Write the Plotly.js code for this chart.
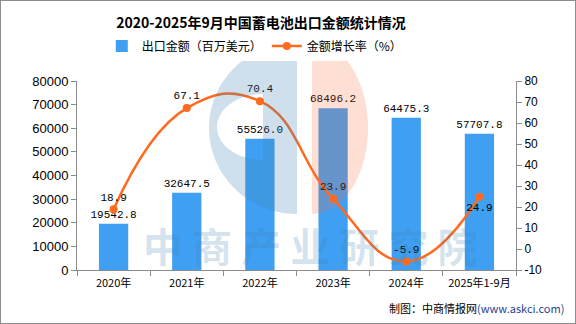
<!DOCTYPE html>
<html><head><meta charset="utf-8">
<script src="https://cdn.plot.ly/plotly-3.0.1.min.js"></script>
<style>
body{margin:0;padding:0;background:#fff;}
#wrap{position:relative;width:576px;height:324px;}
#chart{width:576px;height:324px;}
#frame{position:absolute;left:0;top:0;width:576px;height:324px;box-sizing:border-box;border:1px solid #8c8c8c;pointer-events:none;}
</style>
</head><body>
<div id="wrap"><div id="chart"></div><div id="frame"></div></div>
<script>
var categories = ['2020年','2021年','2022年','2023年','2024年','2025年1-9月'];
var exportValues = [19542.8, 32647.5, 55526.0, 68496.2, 64475.3, 57707.8];
var growthRates = [18.9, 67.1, 70.4, 23.9, -5.9, 24.9];
var leftTicks = [0,10000,20000,30000,40000,50000,60000,70000,80000];
var rightTicks = [-10,0,10,20,30,40,50,60,70,80];

var labelFont = {family:'Liberation Mono, DejaVu Sans Mono, monospace', size:11, color:'#000'};
var cjk = 'Noto Sans CJK SC, sans-serif';

// plot area geometry (pixels) for the decorative watermark logo
var M = {l:77, r:60, t:81, b:54};
var PW = 576 - M.l - M.r, PH = 324 - M.t - M.b;
function px(x){ return ((x - M.l) / PW).toFixed(4); }
function py(y){ return ((324 - M.b - y) / PH).toFixed(4); }
function halfEllipse(cx, cy, rx, ry, dir){
  var s = '';
  for (var i = 0; i <= 40; i++){
    var t = -Math.PI/2 + Math.PI * i / 40;
    var x = cx + dir * rx * Math.cos(t), y = cy + ry * Math.sin(t);
    s += (i === 0 ? 'M' : 'L') + px(x) + ',' + py(y) + ' ';
  }
  return s + 'Z ';
}
var bluePath = halfEllipse(297, 128, 88, 86, -1) + halfEllipse(263, 127, 46, 33, -1);
var orangePath = halfEllipse(312, 128, 56, 86, 1);

var bars = {
  type:'bar', x:categories, y:exportValues, name:'出口金额（百万美元）',
  marker:{color:'#3f9ff2'}, width:0.4,
  text:exportValues.map(function(v){return v.toFixed(1);}),
  textposition:'outside', constraintext:'none', textfont:labelFont, cliponaxis:false,
  hoverinfo:'none'
};
var line = {
  type:'scatter', mode:'lines+markers+text', x:categories, y:growthRates, yaxis:'y2',
  name:'金额增长率（%）',
  line:{color:'#ff6a1f', width:2.5, shape:'spline', smoothing:1.3},
  marker:{color:'#ff6a1f', size:8},
  text:growthRates.map(function(v){return v.toFixed(1);}),
  textposition:['top center','top center','top center','top center','top center','bottom center'],
  textfont:labelFont, cliponaxis:false, hoverinfo:'none'
};

var layout = {
  width:576, height:324,
  margin:M,
  paper_bgcolor:'#fff', plot_bgcolor:'rgba(0,0,0,0)',
  showlegend:true,
  legend:{orientation:'h', x:0.405, xanchor:'center', y:1.185, yanchor:'middle',
    font:{family:cjk, size:12, color:'#000'}, itemwidth:30, traceorder:'normal'},
  title:{text:'<b>2020-2025年9月中国蓄电池出口金额统计情况</b>', x:0.453, xanchor:'center', y:0.93, yanchor:'middle',
    font:{family:cjk, size:14, color:'#000'}},
  xaxis:{type:'category', showline:true, linecolor:'#8c8c8c', linewidth:1, ticks:'outside', ticklen:5,
    tickcolor:'#8c8c8c', showgrid:false, tickfont:{family:cjk, size:11, color:'#000'},
    tickson:'boundaries', zeroline:false, ticklabelstandoff:3},
  yaxis:{range:[0,80000], tickvals:leftTicks, ticktext:leftTicks.map(String), showline:true, linecolor:'#8c8c8c', linewidth:1,
    ticks:'outside', ticklen:5, tickcolor:'#8c8c8c', showgrid:false, zeroline:false,
    tickfont:{family:'Liberation Sans, sans-serif', size:13, color:'#000'}},
  yaxis2:{range:[-10,80], tickvals:rightTicks, ticktext:rightTicks.map(String), overlaying:'y', side:'right', showline:true,
    linecolor:'#8c8c8c', linewidth:1, ticks:'outside', ticklen:5, tickcolor:'#8c8c8c',
    showgrid:false, zeroline:false,
    tickfont:{family:'Liberation Sans, sans-serif', size:12, color:'#000'}},
  shapes:[
    {type:'path', xref:'paper', yref:'paper', path:bluePath, fillrule:'evenodd',
      fillcolor:'rgba(64,130,180,0.25)', line:{width:0}, layer:'above'},
    {type:'path', xref:'paper', yref:'paper', path:orangePath,
      fillcolor:'rgba(245,110,60,0.22)', line:{width:0}, layer:'above'}
  ],
  annotations:[
    {text:'<b>中 商 产 业 研 究 院</b>', xref:'paper', yref:'paper', x:0.53, y:0.13, xanchor:'center', yanchor:'middle', showarrow:false,
      font:{family:cjk, size:40, color:'rgba(64,130,180,0.22)'}},
    {text:'制图：中商情报网<span style="color:#1f3f8f">(www.askci.com)</span>', xref:'paper', yref:'paper',
      x:1.115, xanchor:'right', y:-0.2, yanchor:'middle', showarrow:false,
      font:{family:cjk, size:11, color:'#000'}}
  ]
};
Plotly.newPlot('chart',[bars,line],layout,{displayModeBar:false, staticPlot:true});
</script>
</body></html>
